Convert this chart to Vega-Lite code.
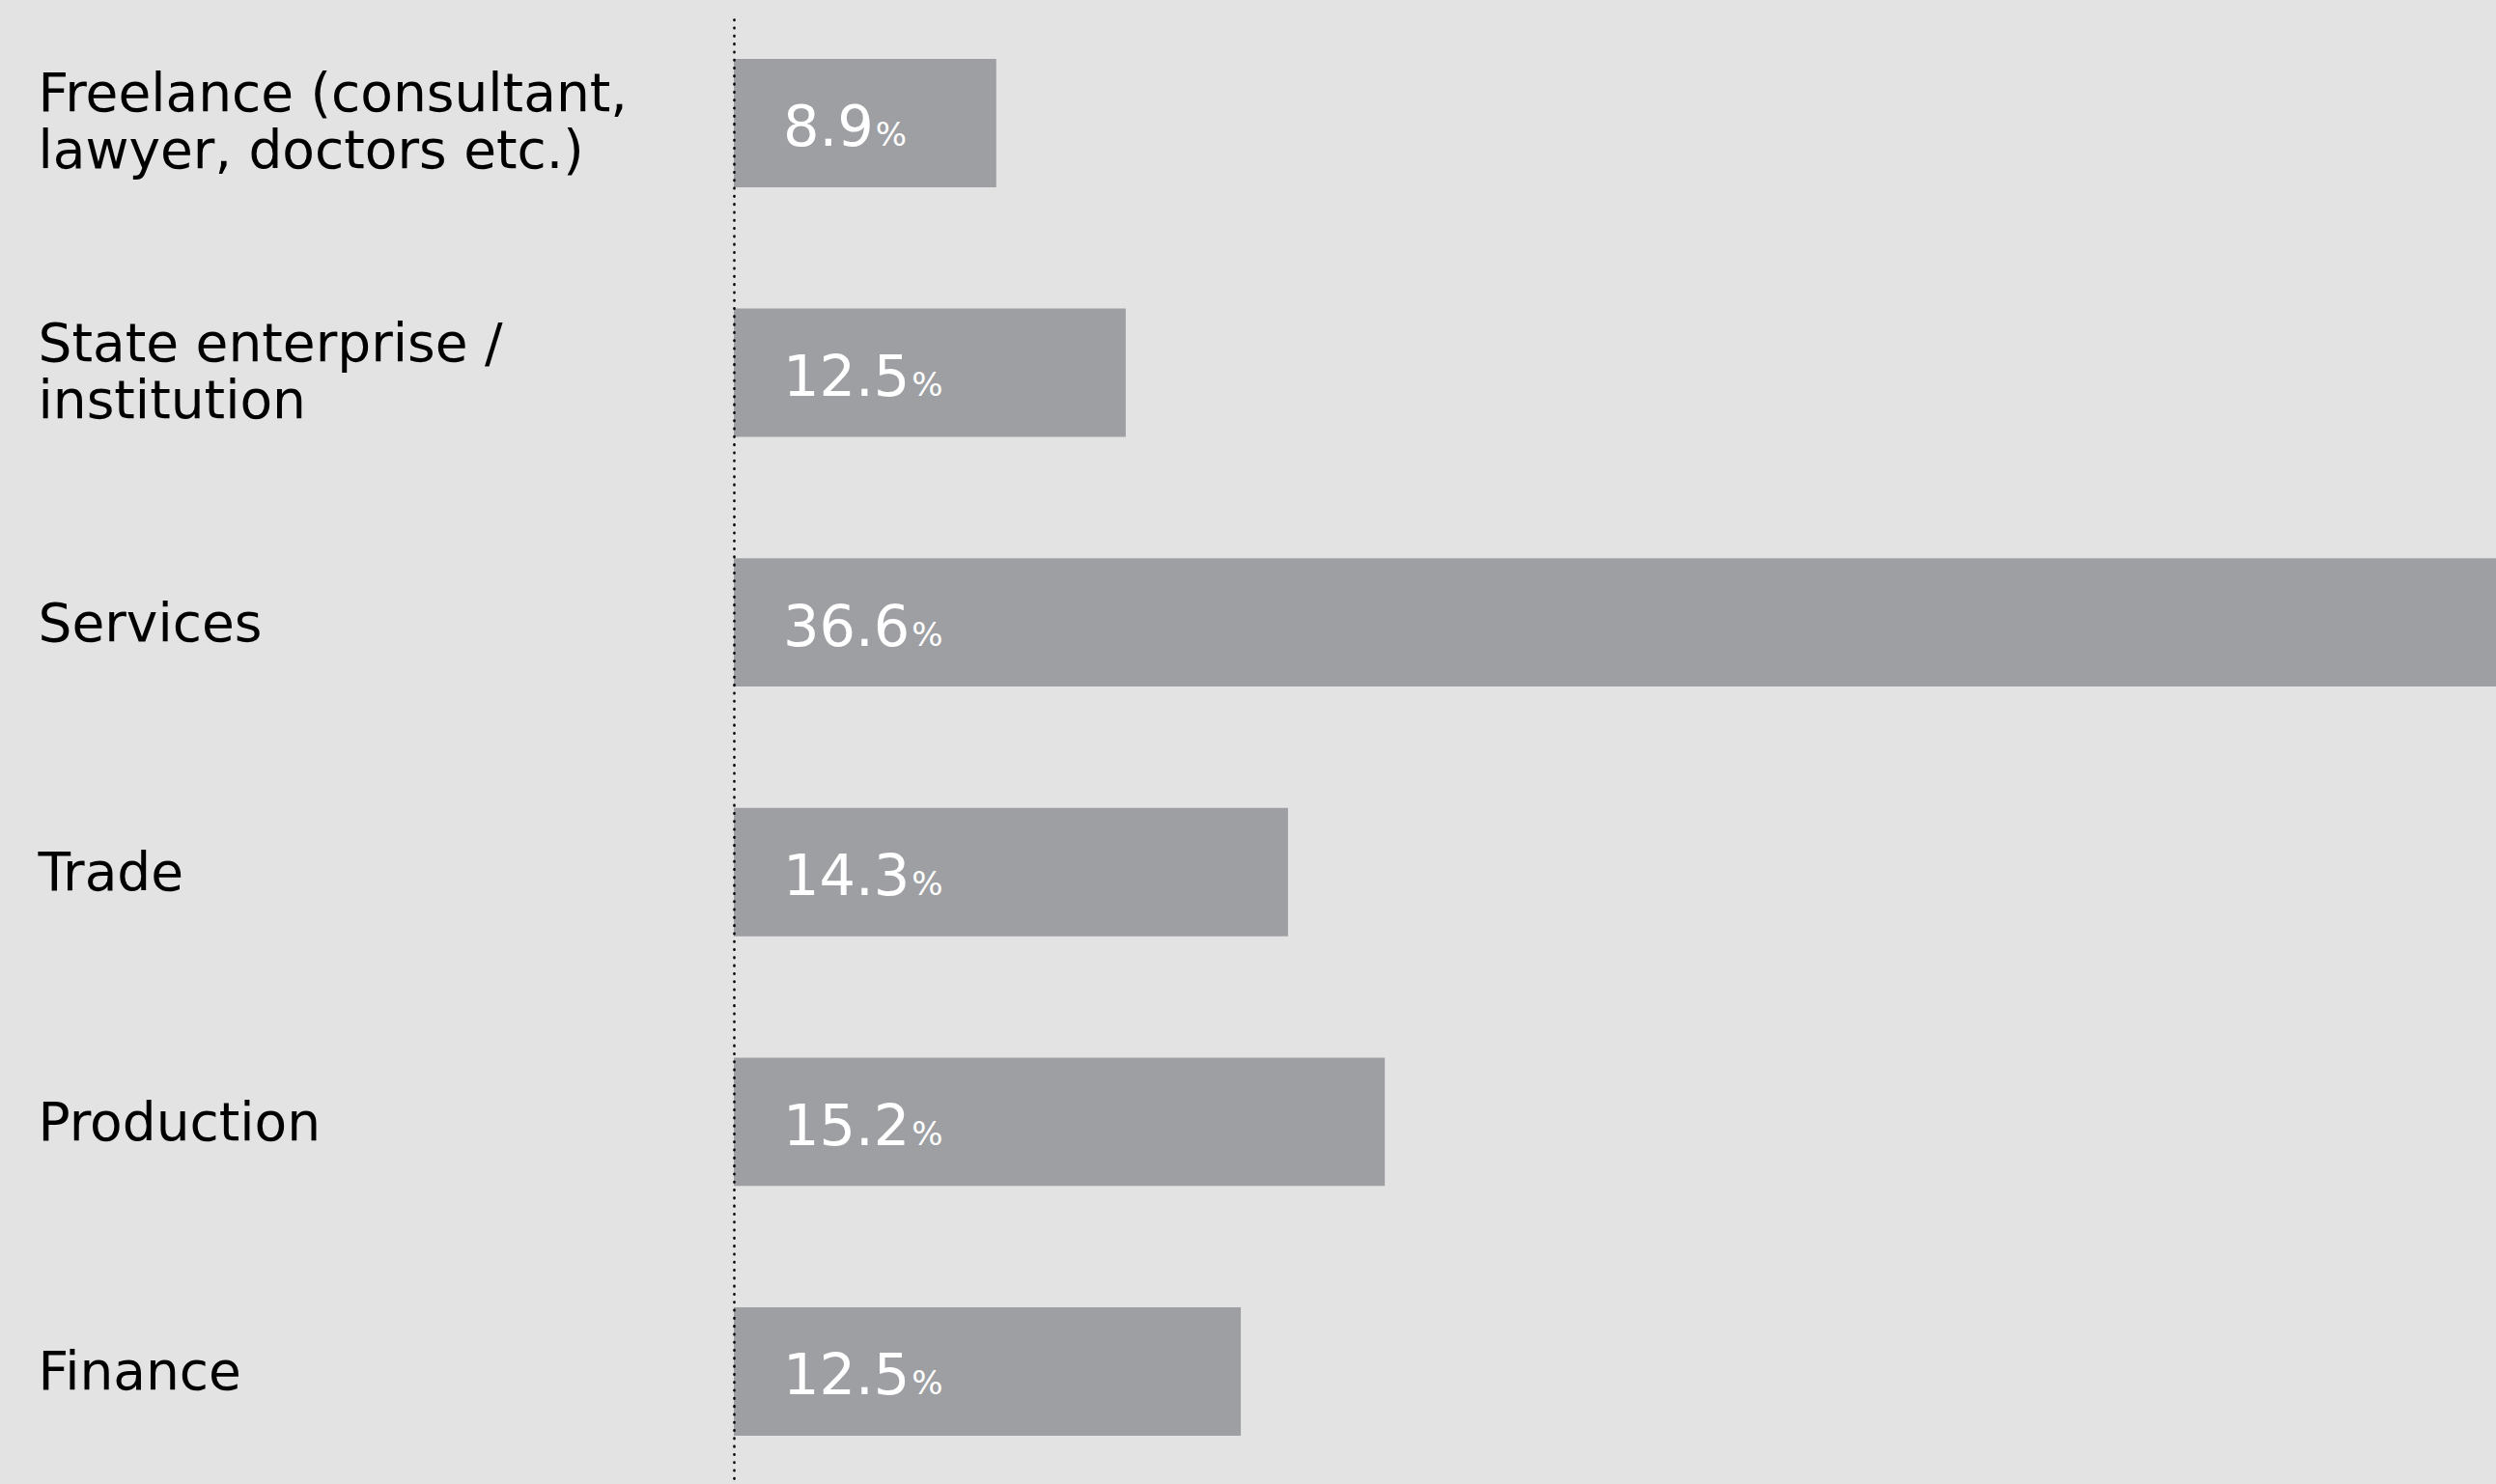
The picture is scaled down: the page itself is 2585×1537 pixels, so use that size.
{
  "$schema": "https://vega.github.io/schema/vega-lite/v6.json",
  "width": 1825,
  "height": 1517,
  "padding": {"left": 39, "top": 20, "right": 0, "bottom": 0},
  "autosize": {"type": "pad"},
  "background": "#e3e3e3",
  "config": {"view": {"stroke": null}},
  "data": {
    "values": [
      {"sector": "Freelance (consultant,|lawyer, doctors etc.)", "label": "8.9", "bar": 5.45},
      {"sector": "State enterprise /|institution", "label": "12.5", "bar": 8.14},
      {"sector": "Services", "label": "36.6", "bar": 36.6},
      {"sector": "Trade", "label": "14.3", "bar": 11.51},
      {"sector": "Production", "label": "15.2", "bar": 13.52},
      {"sector": "Finance", "label": "12.5", "bar": 10.53}
    ]
  },
  "encoding": {
    "y": {
      "field": "sector",
      "type": "nominal",
      "sort": null,
      "scale": {"paddingInner": 0.486, "paddingOuter": 0.176, "align": 0.45},
      "axis": {
        "title": null,
        "ticks": false,
        "tickSize": 0,
        "grid": false,
        "labelAlign": "left",
        "labelPadding": 721,
        "labelFont": "DejaVu Sans",
        "labelFontSize": 55,
        "labelColor": "#000000",
        "labelLineHeight": 59,
        "labelBaseline": "middle",
        "labelOffset": {"condition": {"test": "indexof(datum.label, '|') >= 0", "value": -29}, "value": 2},
        "labelLimit": 715,
        "labelOverlap": false,
        "labelExpr": "split(datum.label, '|')",
        "domainColor": "#000000",
        "domainWidth": 2.6,
        "domainCap": "round",
        "domainDash": [0.5, 7.8],
        "zindex": 1
      }
    }
  },
  "layer": [
    {
      "mark": {"type": "bar", "color": "#9e9fa3"},
      "encoding": {
        "x": {"field": "bar", "type": "quantitative", "scale": {"domain": [0, 36.6], "nice": false}, "axis": null}
      }
    },
    {
      "mark": {"type": "text", "align": "left", "baseline": "alphabetic", "dx": 51, "dy": 24, "fontSize": 59, "font": "DejaVu Sans", "color": "#ffffff"},
      "encoding": {
        "x": {"datum": 0, "type": "quantitative"},
        "text": {"field": "label", "type": "nominal"}
      }
    },
    {
      "mark": {"type": "text", "align": "left", "baseline": "alphabetic", "dx": {"expr": "51 + (length(datum.label) - 1) * 37.5 + 18.8 + 2"}, "dy": 24, "fontSize": 34, "font": "DejaVu Sans", "color": "#ffffff"},
      "encoding": {
        "x": {"datum": 0, "type": "quantitative"},
        "text": {"value": "%"}
      }
    }
  ]
}
